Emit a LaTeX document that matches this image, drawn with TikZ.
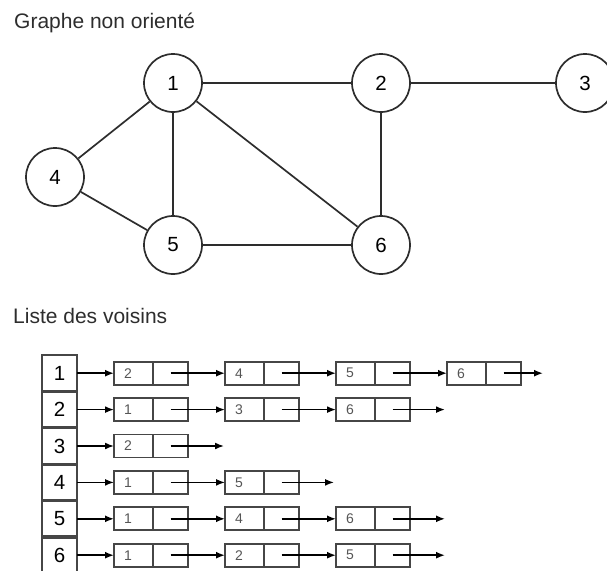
\documentclass[tikz,border=0pt]{standalone}
\usepackage{fontspec}
\setmainfont{Liberation Sans}
\usetikzlibrary{arrows.meta,positioning}
\definecolor{edgeGray}{RGB}{45,45,45}
\definecolor{boxGray}{RGB}{70,70,70}
\definecolor{keyGray}{RGB}{85,85,85}

\begin{document}
\begin{tikzpicture}[x=1pt,y=-1pt,
  vertex/.style={circle, draw=edgeGray, line width=1.7pt, minimum size=58pt, inner sep=0pt, font=\fontsize{20.5}{24}\selectfont},
  edge/.style={edgeGray, line width=1.7pt},
  heading/.style={anchor=base west, inner sep=0pt, text=edgeGray, font=\fontsize{21}{25}\selectfont},
  idxbox/.style={draw=boxGray, line width=2pt, minimum width=35pt, minimum height=36.4pt, inner sep=0pt, outer sep=0pt, font=\fontsize{20.5}{24}\selectfont},
  keybox/.style={draw=boxGray, line width=1.7pt, text width=19pt, align=left, inner xsep=10pt, inner ysep=0pt, minimum height=23pt, outer sep=0pt, text=keyGray, font=\fontsize{14}{16}\selectfont},
  ptrbox/.style={draw=boxGray, line width=1.7pt, minimum width=35pt, minimum height=23pt, inner sep=0pt, outer sep=0pt},
  link/.style={black, line width=1.6pt, -{Latex[length=9pt,width=7pt]}}]
\clip (0,0) rectangle (607,570);
% graph
\node[heading] (title1) at (14,28) {Graphe non orienté};
\node[vertex] (n1) at (173,83) {1};
\node[vertex] (n2) at (381,83) {2};
\node[vertex] (n3) at (585,83) {3};
\node[vertex] (n4) at (55,177) {4};
\node[vertex] (n5) at (173,245) {5};
\node[vertex] (n6) at (381,245) {6};
\draw[edge] (n1) -- (n2);
\draw[edge] (n2) -- (n3);
\draw[edge] (n1) -- (n4);
\draw[edge] (n1) -- (n5);
\draw[edge] (n1) -- (n6);
\draw[edge] (n2) -- (n6);
\draw[edge] (n4) -- (n5);
\draw[edge] (n5) -- (n6);
% adjacency lists
\node[heading] (title2) at (13,323) {Liste des voisins};
\foreach \r/\y/\nbrs/\endx in {1/373.2/{2,4,5,6}/543, 2/409.6/{1,3,6}/445, 3/446/{2}/224,
    4/482.4/{1,5}/334, 5/518.8/{1,4,6}/445, 6/555.2/{1,2,5}/445} {
  \node[idxbox] (idx\r) at (59.5,\y) {\r};
  \ifnum\r>1
    \draw[boxGray, line width=3.2pt] (idx\r.north west) -- (idx\r.north east);
  \fi
  \foreach \v [count=\k from 0, remember=\k as \j (initially 0)] in \nbrs {
    \node[keybox] (key\r-\k) at (133.5+111*\k,\y) {\v};
    \node[ptrbox, right=0pt of key\r-\k] (ptr\r-\k) {};
    \ifnum\k=0
      \draw[link] (idx\r.east) -- (key\r-\k.west);
    \else
      \draw[link] (ptr\r-\j.center) -- (key\r-\k.west);
    \fi
    \xdef\lastptr{ptr\r-\k}
  }
  \coordinate (end\r) at (\endx,\y);
  \draw[link] (\lastptr.center) -- (end\r);
}
\end{tikzpicture}
\end{document}
